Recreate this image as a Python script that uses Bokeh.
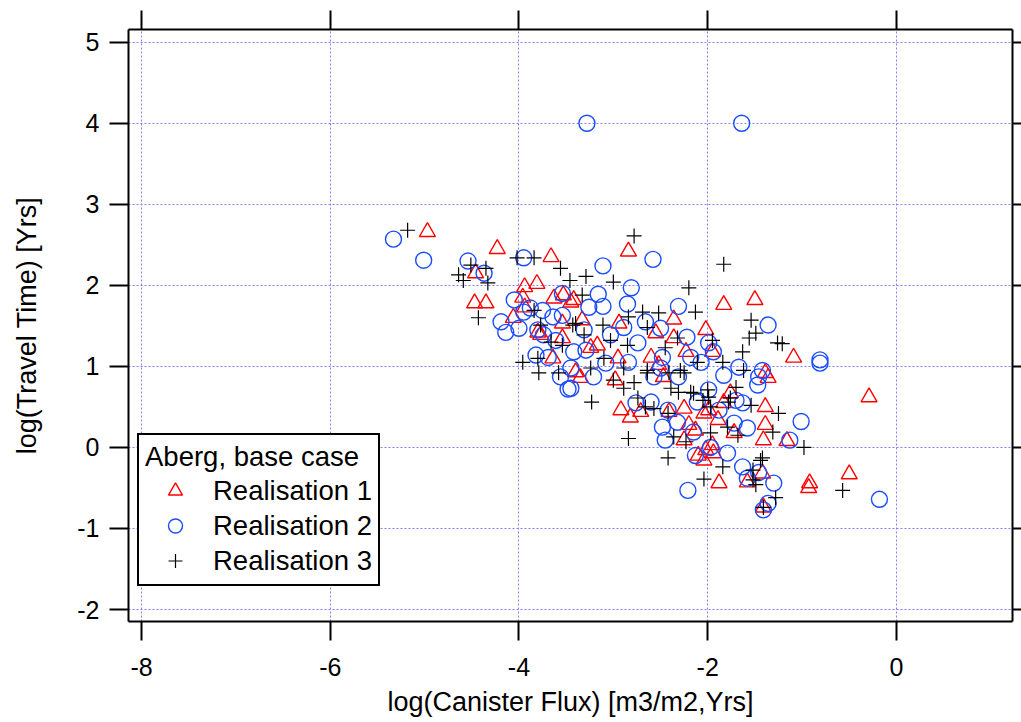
from bokeh.plotting import figure
from bokeh.models import Range1d, LinearAxis, FixedTicker, Legend, LegendItem
from bokeh.embed import file_html
from bokeh.resources import INLINE

x_ticks = [-8, -6, -4, -2, 0]
y_ticks = [-2, -1, 0, 1, 2, 3, 4, 5]

title_text = "Aberg, base case"
series_labels = ["Realisation 1", "Realisation 2", "Realisation 3"]

r1_x = [-4.97, -4.23, -3.66, -4.46, -4.47, -4.35, -3.94, -3.81, -3.96, -4.06, -3.94, -3.53, -3.45, -3.63,
        -3.77, -3.64, -3.54, -2.84, -1.83, -1.50, -2.36, -2.02, -1.95, -2.23, -3.42, -2.94, -2.55, -2.36,
        -3.24, -3.17, -2.95, -2.60, -3.40, -2.52, -1.39, -3.35, -2.92, -2.82, -2.98, -2.71, -2.41, -2.25,
        -2.20, -2.13, -2.25, -2.10, -2.04, -1.94, -1.95, -1.88, -1.89, -1.83, -1.72, -1.39, -1.39, -1.41,
        -1.42, -2.47, -1.36, -2.04, -1.09, -0.29, -1.16, -1.58, -1.41, -0.92, -0.93, -0.50, -1.99, -2.02,
        -1.76, -3.80, -3.54, -3.33]
r1_y = [2.66, 2.45, 2.35, 2.15, 1.78, 1.78, 1.98, 2.02, 1.85, 1.60, 1.73, 1.88, 1.79, 1.84,
        1.39, 1.10, 1.35, 2.42, 1.76, 1.82, 1.58, 1.45, 1.18, 1.18, 1.82, 1.53, 1.41, 1.35,
        1.23, 1.26, 1.10, 1.11, 0.93, 1.02, 0.92, 0.86, 0.46, 0.37, 0.83, 0.44, 0.44, 0.48,
        0.28, 0.21, 0.09, -0.10, -0.16, -0.07, 0.03, -0.44, 0.34, 0.55, 0.18, 0.50, 0.28, 0.09,
        -0.32, 0.87, 0.86, 0.42, 1.11, 0.62, 0.08, -0.43, -0.74, -0.44, -0.50, -0.33, 0.46, -0.03,
        0.67, 1.42, 1.53, 1.57]

r2_x = [-3.28, -1.64, -5.33, -5.01, -4.54, -4.37, -3.95, -4.05, -3.88, -4.19, -4.14, -4.00, -3.75, -3.54,
        -3.64, -3.54, -3.80, -3.74, -3.61, -3.82, -3.69, -3.45, -3.42, -3.95, -3.56, -3.48, -3.11, -2.58,
        -2.81, -3.16, -3.11, -2.85, -2.31, -3.26, -1.36, -2.22, -1.99, -1.94, -2.89, -2.66, -2.50, -2.74,
        -3.03, -3.31, -3.29, -2.18, -2.07, -2.84, -3.08, -2.48, -1.67, -1.42, -2.50, -1.83, -3.21, -3.45,
        -2.76, -2.60, -2.42, -2.48, -2.45, -2.32, -2.15, -2.13, -1.97, -1.79, -1.99, -2.11, -1.70, -1.63,
        -1.58, -1.72, -1.46, -1.63, -1.58, -1.46, -1.30, -1.36, -1.41, -2.21, -2.57, -2.31, -1.88, -0.81,
        -0.81, -1.01, -1.13, -0.18, -1.47]
r2_y = [4.00, 4.00, 2.57, 2.31, 2.30, 2.15, 2.34, 1.82, 1.72, 1.55, 1.42, 1.47, 1.69, 1.90,
        1.61, 1.63, 1.45, 1.39, 1.32, 1.14, 1.11, 0.98, 1.18, 1.67, 0.87, 0.72, 2.24, 2.32,
        1.97, 1.89, 1.74, 1.77, 1.74, 1.73, 1.51, 1.36, 1.29, 1.18, 1.48, 1.55, 1.47, 1.29,
        1.39, 1.45, 1.20, 1.11, 1.05, 1.05, 1.04, 1.11, 0.99, 0.95, 0.98, 0.89, 0.87, 0.73,
        0.55, 0.56, 0.46, 0.25, 0.09, 0.31, 0.19, -0.10, 0.00, -0.07, 0.71, 0.56, 0.58, 0.55,
        0.24, 0.30, 0.87, -0.24, -0.38, -0.31, -0.44, -0.69, -0.77, -0.53, 0.87, 0.87, 0.46, 1.08,
        1.04, 0.32, 0.09, -0.64, 0.77]

r3_x = [-5.18, -4.64, -4.59, -4.51, -4.35, -4.33, -4.43, -4.02, -3.84, -3.56, -3.46, -3.84, -3.77, -3.66,
        -3.54, -3.43, -3.96, -3.80, -3.79, -3.58, -2.78, -3.29, -3.00, -2.20, -1.83, -3.33, -2.69, -2.52,
        -2.13, -1.54, -1.56, -1.49, -1.63, -2.84, -3.11, -3.40, -3.31, -3.03, -2.85, -2.64, -2.45, -2.32,
        -2.11, -1.95, -1.84, -1.62, -1.26, -2.89, -2.64, -3.10, -3.24, -2.29, -3.23, -2.84, -2.42, -2.04,
        -1.84, -1.97, -1.68, -1.79, -1.54, -1.31, -1.44, -1.52, -1.49, -1.41, -1.28, -3.00, -2.78, -2.89,
        -2.74, -2.66, -2.57, -2.42, -2.39, -2.31, -2.18, -2.05, -1.97, -1.76, -2.36, -2.23, -2.00, -2.25,
        -2.64, -1.21, -1.70, -1.25, -0.98, -0.57, -1.42, -1.52, -1.78, -1.99, -2.15, -2.41]
r3_y = [2.68, 2.13, 2.06, 2.25, 2.21, 2.03, 1.60, 2.34, 2.34, 2.21, 2.06, 1.69, 1.51, 1.30,
        1.26, 1.51, 1.05, 1.10, 0.92, 0.92, 2.61, 2.11, 2.04, 1.97, 2.26, 1.88, 1.67, 1.66,
        1.67, 1.57, 1.35, 1.41, 1.18, 1.61, 1.51, 1.53, 1.39, 1.32, 1.26, 1.48, 1.23, 1.35,
        1.05, 1.32, 1.05, 0.95, 1.29, 0.98, 0.95, 1.10, 0.98, 0.95, 0.56, 0.11, -0.13, -0.39,
        -0.24, 0.18, 0.15, 0.25, 0.52, 0.19, -0.16, -0.28, -0.46, -0.74, -0.62, 0.83, 0.80, 0.73,
        0.61, 0.50, 0.48, 0.42, 0.73, 0.68, 0.68, 0.58, 0.50, 0.61, 0.13, 0.07, 0.71, 0.92,
        0.92, 1.28, 0.74, 0.42, 0.00, -0.53, -0.13, -0.40, 0.56, 0.62, 0.67, 0.92]

FONT = "Liberation Sans"

p = figure(width=1021, height=722, output_backend="svg", toolbar_location=None,
           x_range=Range1d(-8.138, 1.23), y_range=Range1d(-2.148, 5.157),
           min_border_left=128, min_border_top=29, min_border_right=9, min_border_bottom=101,
           x_axis_label="log(Canister Flux) [m3/m2,Yrs]",
           y_axis_label="log(Travel Time) [Yrs]")
p.outline_line_color = None
p.background_fill_color = "white"
p.border_fill_color = "white"

for ax, ticks in ((p.xaxis[0], x_ticks), (p.yaxis[0], y_ticks)):
    ax.ticker = FixedTicker(ticks=ticks)
    ax.major_label_overrides = {t: str(t) for t in ticks}
    ax.major_tick_out = 19
    ax.major_tick_in = 0
    ax.minor_tick_out = 0
    ax.minor_tick_in = 0
    ax.axis_line_width = 2
    ax.axis_line_color = "black"
    ax.major_tick_line_width = 2
    ax.major_tick_line_color = "black"
    ax.major_label_text_font = FONT
    ax.major_label_text_font_size = "25px"
    ax.major_label_text_color = "black"
    ax.axis_label_text_font = FONT
    ax.axis_label_text_font_size = "27px"
    ax.axis_label_text_font_style = "normal"
    ax.axis_label_text_color = "black"

p.xaxis[0].major_label_standoff = 17
p.xaxis[0].axis_label_standoff = 8
p.yaxis[0].major_label_standoff = 10
p.yaxis[0].axis_label_standoff = 32

for loc, ticks in (("above", x_ticks), ("right", y_ticks)):
    ax = LinearAxis(ticker=FixedTicker(ticks=ticks), axis_label=None)
    ax.major_label_text_font_size = "1px"
    ax.major_label_text_color = None
    ax.major_label_text_alpha = 0
    ax.major_label_standoff = 0
    ax.major_tick_out = 19 if loc == "above" else 9
    ax.major_tick_in = 0
    ax.minor_tick_out = 0
    ax.minor_tick_in = 0
    ax.axis_line_width = 2
    ax.major_tick_line_width = 2
    p.add_layout(ax, loc)

for g, ticks in ((p.xgrid[0], x_ticks), (p.ygrid[0], y_ticks)):
    g.ticker = FixedTicker(ticks=ticks)
    g.grid_line_color = "#8080ff"
    g.grid_line_dash = "2 2"
    g.grid_line_width = 1

r1 = p.scatter(r1_x, r1_y, marker="triangle", size=16, fill_color=None,
               line_color="#ff0000", line_width=1.4)
r2 = p.scatter(r2_x, r2_y, marker="circle", size=16, fill_color=None,
               line_color="#1a4dff", line_width=1.4)
r3 = p.scatter(r3_x, r3_y, marker="cross", size=15, line_color="black", line_width=1.2)

legend = Legend(items=[LegendItem(label=series_labels[0], renderers=[r1]),
                       LegendItem(label=series_labels[1], renderers=[r2]),
                       LegendItem(label=series_labels[2], renderers=[r3])],
                title=title_text, location=(9, 35), margin=0)
legend.border_line_color = "black"
legend.border_line_alpha = 1
legend.border_line_width = 2
legend.background_fill_color = "white"
legend.background_fill_alpha = 1
legend.label_text_font = FONT
legend.label_text_font_size = "27.5px"
legend.label_text_color = "black"
legend.title_text_font = FONT
legend.title_text_font_size = "27.5px"
legend.title_text_font_style = "normal"
legend.title_text_color = "black"
legend.padding = 6
legend.spacing = 0
legend.glyph_width = 60
legend.glyph_height = 35
legend.label_height = 35
legend.label_standoff = 8
legend.title_standoff = 0
p.add_layout(legend)

open("out.html", "w").write(file_html(p, INLINE))
